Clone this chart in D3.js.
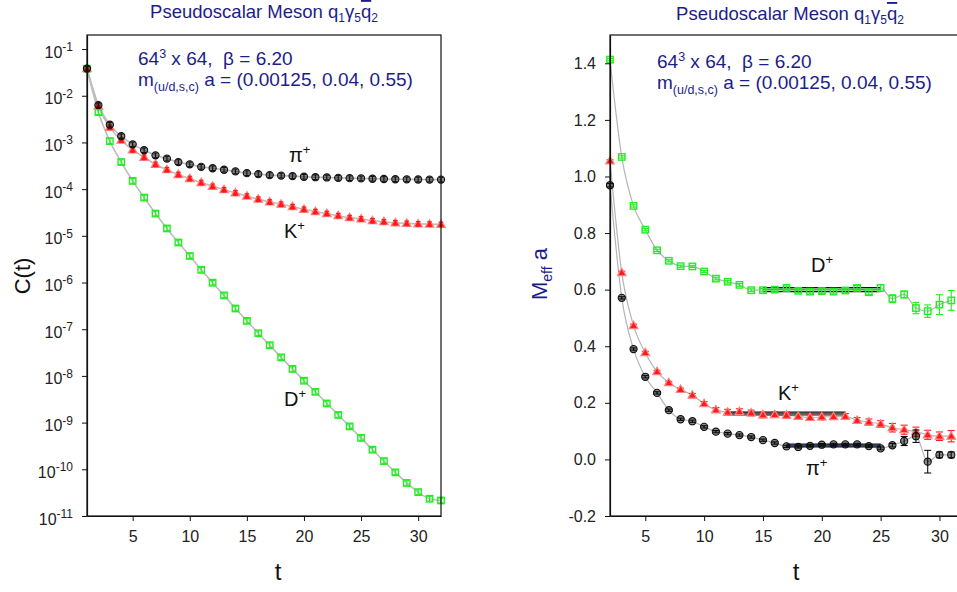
<!DOCTYPE html>
<html>
<head>
<meta charset="utf-8">
<script src="https://cdn.jsdelivr.net/npm/d3@7"></script>
<style>
  body { margin: 0; background: #fff; }
  svg { font-family: Arial, "Liberation Sans", sans-serif; }
</style>
</head>
<body>
<svg id="chart" width="957" height="592"></svg>
<script>
// ---- data : correlator C(t), t = 1..32 ----
const tCorr = [1,2,3,4,5,6,7,8,9,10,11,12,13,14,15,16,17,18,19,20,21,22,23,24,25,26,27,28,29,30,31,32];
const corrPion = [3.8e-2, 6.3e-3, 2.4e-3, 1.36e-3, 9.1e-4, 6.8e-4, 5.3e-4, 4.5e-4, 3.8e-4, 3.4e-4,
                  3.0e-4, 2.8e-4, 2.6e-4, 2.4e-4, 2.2e-4, 2.1e-4, 2.0e-4, 1.95e-4, 1.9e-4, 1.84e-4,
                  1.8e-4, 1.78e-4, 1.74e-4, 1.72e-4, 1.7e-4, 1.67e-4, 1.65e-4, 1.63e-4, 1.62e-4, 1.61e-4, 1.6e-4, 1.6e-4];
const corrKaon = [3.8e-2, 6.0e-3, 2.1e-3, 1.12e-3, 6.9e-4, 4.8e-4, 3.4e-4, 2.6e-4, 2.05e-4, 1.68e-4,
                  1.38e-4, 1.15e-4, 9.7e-5, 8.3e-5, 7.1e-5, 6.1e-5, 5.3e-5, 4.75e-5, 4.2e-5, 3.7e-5,
                  3.3e-5, 3.0e-5, 2.7e-5, 2.45e-5, 2.3e-5, 2.1e-5, 2.0e-5, 1.9e-5, 1.85e-5, 1.8e-5, 1.78e-5, 1.75e-5];
const corrD = [3.8e-2, 4.45e-3, 1.07e-3, 3.8e-4, 1.5e-4, 6.6e-5, 3.0e-5, 1.44e-5, 7.2e-6, 3.7e-6,
               1.87e-6, 9.9e-7, 5.3e-7, 2.78e-7, 1.51e-7, 8.2e-8, 4.55e-8, 2.5e-8, 1.41e-8, 7.9e-9,
               4.55e-9, 2.57e-9, 1.46e-9, 8.3e-10, 4.7e-10, 2.63e-10, 1.5e-10, 8.6e-11, 5.1e-11, 3.25e-11, 2.34e-11, 2.15e-11];
const corrTicks = [-11,-10,-9,-8,-7,-6,-5,-4,-3,-2,-1];   // decades

// ---- data : effective mass, t = 2..31 ----
const tMeff = [2,3,4,5,6,7,8,9,10,11,12,13,14,15,16,17,18,19,20,21,22,23,24,25,26,27,28,29,30,31];
const meffPion = [0.969, 0.571, 0.390, 0.292, 0.235, 0.174, 0.142, 0.135, 0.115, 0.098,
                  0.091, 0.086, 0.079, 0.068, 0.058, 0.046, 0.044, 0.048, 0.052, 0.053,
                  0.053, 0.053, 0.047, 0.039, 0.050, 0.065, 0.082, -0.008, 0.016, 0.016];
const errPion = [0.006, 0.004, 0.004, 0.004, 0.004, 0.004, 0.004, 0.004, 0.004, 0.004,
                 0.004, 0.004, 0.004, 0.004, 0.004, 0.004, 0.004, 0.004, 0.004, 0.004,
                 0.004, 0.004, 0.004, 0.005, 0.006, 0.016, 0.022, 0.04, 0.01, 0.01];
const meffKaon = [1.055, 0.660, 0.473, 0.377, 0.310, 0.271, 0.247, 0.227, 0.197, 0.175,
                  0.167, 0.169, 0.164, 0.157, 0.158, 0.156, 0.152, 0.148, 0.150, 0.151,
                  0.152, 0.138, 0.132, 0.125, 0.112, 0.105, 0.098, 0.087, 0.082, 0.082];
const errKaon = [0.004, 0.005, 0.005, 0.005, 0.005, 0.005, 0.005, 0.006, 0.007, 0.008,
                 0.010, 0.010, 0.010, 0.010, 0.010, 0.010, 0.010, 0.010, 0.010, 0.010,
                 0.010, 0.010, 0.011, 0.012, 0.015, 0.016, 0.016, 0.016, 0.015, 0.02];
const meffD = [1.413, 1.069, 0.896, 0.812, 0.739, 0.702, 0.683, 0.682, 0.664, 0.639,
               0.628, 0.617, 0.598, 0.598, 0.600, 0.606, 0.596, 0.593, 0.595, 0.593,
               0.597, 0.606, 0.591, 0.606, 0.568, 0.583, 0.535, 0.524, 0.547, 0.562];
const errD = [0.004, 0.004, 0.004, 0.004, 0.004, 0.004, 0.004, 0.004, 0.004, 0.005,
              0.005, 0.005, 0.005, 0.006, 0.006, 0.007, 0.007, 0.008, 0.008, 0.008,
              0.008, 0.008, 0.009, 0.012, 0.014, 0.012, 0.02, 0.022, 0.035, 0.035];
const meffTicks = [-0.2, 0.0, 0.2, 0.4, 0.6, 0.8, 1.0, 1.2, 1.4];
const tTicks = [5, 10, 15, 20, 25, 30];

// plateau fits: pion, kaon, D
const platStart = [17, 12, 15];
const platEnd = [25, 22, 25];
const platMid = [0.049, 0.162, 0.600];
const platErr = [0.005, 0.005, 0.007];

const NAVY = "#1d1d8a";
const svg = d3.select("#chart");

// ---- scales ----
const xL = d3.scaleLinear().domain([1, 32]).range([87, 441]);
const yL = d3.scaleLog().domain([1e-11, 0.2]).range([516, 35]);
const xR = d3.scaleLinear().domain([2, 32]).range([610, 963]);
const yR = d3.scaleLinear().domain([-0.2, 1.5]).range([516, 35]);

const smooth = (xs, ys) => d3.line().curve(d3.curveMonotoneX).x(d => xs(d[0])).y(d => ys(d[1]));

// ---- titles ----
function title(cx, y) {
  const t = svg.append("text").attr("x", cx).attr("y", y).attr("text-anchor", "middle")
    .attr("font-size", 18.5).attr("fill", NAVY);
  t.append("tspan").text("Pseudoscalar Meson q");
  t.append("tspan").attr("font-size", 12).attr("dy", 4).text("1");
  t.append("tspan").attr("font-size", 18.5).attr("dy", -4).text("γ");
  t.append("tspan").attr("font-size", 12).attr("dy", 4).text("5");
  t.append("tspan").attr("font-size", 18.5).attr("dy", -4).attr("text-decoration", "overline").text("q");
  t.append("tspan").attr("font-size", 12).attr("dy", 4).text("2");
}
title(264, 18);
title(790, 20);

function info(x, y) {
  const a = svg.append("text").attr("x", x).attr("y", y).attr("font-size", 19).attr("fill", NAVY);
  a.append("tspan").text("64");
  a.append("tspan").attr("font-size", 12.5).attr("dy", -7).text("3");
  a.append("tspan").attr("dy", 7).text(" x 64,\u00a0\u00a0β = 6.20");
  const b = svg.append("text").attr("x", x).attr("y", y + 21).attr("font-size", 19).attr("fill", NAVY);
  b.append("tspan").text("m");
  b.append("tspan").attr("font-size", 12.5).attr("dy", 5).text("(u/d,s,c)");
  b.append("tspan").attr("dy", -5).text(" a = (0.00125, 0.04, 0.55)");
}

function label(x, y, base) {
  const t = svg.append("text").attr("x", x).attr("y", y).attr("font-size", 20).attr("fill", "#111");
  t.append("tspan").text(base);
  t.append("tspan").attr("font-size", 13).attr("dy", -8).text("+");
}

// ---- marker helpers ----
function drawMarker(g, kind, x, y) {
  if (kind === "pion") {
    g.append("circle").attr("cx", x).attr("cy", y).attr("r", 3.6)
      .attr("fill", "rgba(0,0,0,0.45)").attr("stroke", "#111").attr("stroke-width", 1.1);
  } else if (kind === "kaon") {
    g.append("path").attr("d", d3.symbol(d3.symbolTriangle, 32)()).attr("transform", `translate(${x},${y + 0.5})`)
      .attr("fill", "#ff1a1a").attr("stroke", "#ff8080").attr("stroke-width", 1.2);
  } else {
    g.append("rect").attr("x", x - 3.2).attr("y", y - 3.2).attr("width", 6.4).attr("height", 6.4)
      .attr("fill", "none").attr("stroke", "#22ee22").attr("stroke-width", 1.4);
  }
}
function errBar(g, color, x, y1, y2, w) {
  g.append("line").attr("x1", x).attr("x2", x).attr("y1", y1).attr("y2", y2).attr("stroke", color).attr("stroke-width", 1.1);
  g.append("line").attr("x1", x - w).attr("x2", x + w).attr("y1", y1).attr("y2", y1).attr("stroke", color).attr("stroke-width", 1.1);
  g.append("line").attr("x1", x - w).attr("x2", x + w).attr("y1", y2).attr("y2", y2).attr("stroke", color).attr("stroke-width", 1.1);
}
const colorOf = { pion: "#111", kaon: "#ff1a1a", d: "#22ee22" };

// ===================== LEFT PANEL =====================
const gL = svg.append("g");
[corrPion, corrKaon, corrD].forEach(vals => {
  gL.append("path").datum(tCorr.map((t, i) => [t, vals[i]]))
    .attr("d", smooth(xL, yL)).attr("fill", "none").attr("stroke", "#bdbdbd").attr("stroke-width", 1.6);
});
[["d", corrD], ["kaon", corrKaon], ["pion", corrPion]].forEach(([kind, vals]) => {
  tCorr.forEach((t, i) => {
    const x = xL(t), y = yL(vals[i]);
    drawMarker(gL, kind, x, y);
    errBar(gL, colorOf[kind], x, y - 2.3, y + 2.3, 2.3);
  });
});
gL.append("rect").attr("x", 87).attr("y", 35).attr("width", 354).attr("height", 481)
  .attr("fill", "none").attr("stroke", "#111").attr("stroke-width", 1.2);
gL.append("g").attr("transform", "translate(0,516)")
  .call(d3.axisBottom(xL).tickValues(tTicks).tickSize(5).tickSizeOuter(0).tickPadding(10));
const axLy = gL.append("g").attr("transform", "translate(87,0)")
  .call(d3.axisLeft(yL).tickValues(corrTicks.map(e => Math.pow(10, e))).tickSize(5).tickSizeOuter(0).tickPadding(9).tickFormat(() => ""));
axLy.selectAll(".tick text").each(function(d, i) {
  const t = d3.select(this);
  t.append("tspan").text("10");
  t.append("tspan").attr("font-size", 12).attr("dy", "-0.55em").text(corrTicks[i]);
});
gL.append("text").attr("transform", "translate(30,276) rotate(-90)").attr("text-anchor", "middle")
  .attr("font-size", 22).attr("fill", "#111").text("C(t)");
gL.append("text").attr("x", 278).attr("y", 580).attr("text-anchor", "middle")
  .attr("font-size", 24).attr("fill", "#111").text("t");

info(138, 65);
label(289, 162, "π");
label(284, 238, "K");
label(284, 406, "D");

// ===================== RIGHT PANEL =====================
const gR = svg.append("g");
[meffPion, meffKaon, meffD].forEach(vals => {
  gR.append("path").datum(tMeff.map((t, i) => [t, vals[i]]))
    .attr("d", smooth(xR, yR)).attr("fill", "none").attr("stroke", "#b5b5b5").attr("stroke-width", 1.2);
});
// plateau bands
const bandFill = ["#3344ee", "#8a8a8a", "#7ccf7c"];
const bandMidLine = ["#2233dd", "#555", "#33aa33"];
platStart.forEach((s, i) => {
  const x1 = xR(s), x2 = xR(platEnd[i]);
  const yt = yR(platMid[i] + platErr[i]), yb = yR(platMid[i] - platErr[i]);
  gR.append("rect").attr("x", x1).attr("y", yt).attr("width", x2 - x1).attr("height", yb - yt)
    .attr("fill", bandFill[i]).attr("fill-opacity", 0.55);
  gR.append("line").attr("x1", x1).attr("x2", x2).attr("y1", yt).attr("y2", yt).attr("stroke", "#111").attr("stroke-width", 1.2);
  gR.append("line").attr("x1", x1).attr("x2", x2).attr("y1", yb).attr("y2", yb).attr("stroke", "#111").attr("stroke-width", 1.2);
  gR.append("line").attr("x1", x1).attr("x2", x2).attr("y1", yR(platMid[i])).attr("y2", yR(platMid[i]))
    .attr("stroke", bandMidLine[i]).attr("stroke-width", 1);
});
[["d", meffD, errD], ["kaon", meffKaon, errKaon], ["pion", meffPion, errPion]].forEach(([kind, vals, errs]) => {
  tMeff.forEach((t, i) => {
    const x = xR(t);
    errBar(gR, colorOf[kind], x, yR(vals[i] + errs[i]), yR(vals[i] - errs[i]), 3.5);
    drawMarker(gR, kind, x, yR(vals[i]));
  });
});
gR.append("rect").attr("x", 610).attr("y", 35).attr("width", 353).attr("height", 481)
  .attr("fill", "none").attr("stroke", "#111").attr("stroke-width", 1.2);
gR.append("g").attr("transform", "translate(0,516)")
  .call(d3.axisBottom(xR).tickValues(tTicks).tickSize(5).tickSizeOuter(0).tickPadding(10));
gR.append("g").attr("transform", "translate(610,0)")
  .call(d3.axisLeft(yR).tickValues(meffTicks).tickSize(5).tickSizeOuter(0).tickPadding(9).tickFormat(d => d.toFixed(1)));
const ml = gR.append("text").attr("transform", "translate(547,274) rotate(-90)").attr("text-anchor", "middle")
  .attr("font-size", 22).attr("fill", NAVY);
ml.append("tspan").text("M");
ml.append("tspan").attr("font-size", 14).attr("dy", 5).text("eff");
ml.append("tspan").attr("dy", -5).text(" a");
gR.append("text").attr("x", 796).attr("y", 580).attr("text-anchor", "middle")
  .attr("font-size", 24).attr("fill", "#111").text("t");

info(657, 68);
label(811, 272, "D");
label(778, 400, "K");
label(806, 475, "π");

// axis styling
svg.selectAll(".domain").attr("stroke", "#111").attr("stroke-width", 1.2);
svg.selectAll(".tick line").attr("stroke", "#111");
svg.selectAll(".tick text").attr("font-size", 16).attr("fill", "#222").attr("font-family", "Arial, 'Liberation Sans', sans-serif");
axLy.selectAll(".tick text").attr("dy", "0.5em");
</script>
</body>
</html>
